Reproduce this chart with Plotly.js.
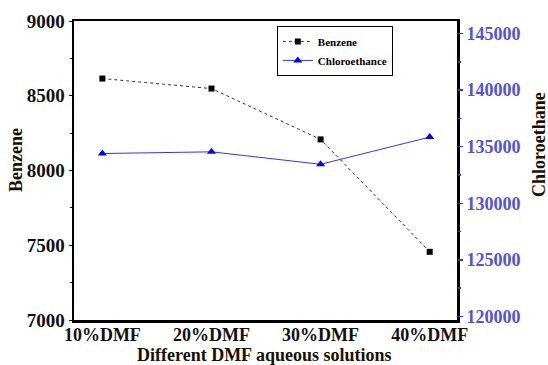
<!DOCTYPE html>
<html><head><meta charset="utf-8">
<script src="https://cdn.plot.ly/plotly-3.0.1.min.js"></script>
<style>html,body{margin:0;padding:0;background:#fff}#chart{width:548px;height:365px}</style>
</head><body><div id="chart"></div>
<script>
const categories = ['10%DMF', '20%DMF', '30%DMF', '40%DMF'];
const categoryIndex = [0, 1, 2, 3];
const benzene = [8615, 8548, 8208, 7456];
const chloroethane = [134400, 134550, 133450, 135850];
const seriesNames = ['Benzene', 'Chloroethance'];
const axisTitles = {x: 'Different DMF aqueous solutions', y: 'Benzene', y2: 'Chloroethane'};

const F = 'Liberation Serif';
const TITLE_COLOR = '#1a1000';
const traces = [
  {x: categoryIndex, y: benzene, name: seriesNames[0], type: 'scatter', mode: 'lines+markers',
   line: {color: '#333', width: 1, dash: '3px,3px'},
   marker: {symbol: 'square', size: 6, color: '#000'}, xaxis: 'x', yaxis: 'y'},
  {x: categoryIndex, y: chloroethane, name: seriesNames[1], type: 'scatter', mode: 'lines+markers',
   line: {color: '#3333ff', width: 1},
   marker: {symbol: 'triangle-up', size: 8, color: '#0000ff'}, xaxis: 'x', yaxis: 'y2'}
];
const layout = {
  width: 548, height: 365,
  margin: {l: 74, r: 91, t: 21, b: 45},
  paper_bgcolor: '#fff', plot_bgcolor: '#fff',
  showlegend: true,
  legend: {x: 0.681, y: 0.9, xanchor: 'center', yanchor: 'middle',
    bgcolor: '#fff', bordercolor: '#000', borderwidth: 1,
    font: {family: F, size: 11, color: '#000', weight: 'bold'},
    itemwidth: 30, tracegroupgap: 0},
  xaxis: {type: 'linear', range: [-0.26, 3.25], tickvals: categoryIndex, ticktext: categories,
    showgrid: false, zeroline: false, showline: true, linewidth: 2.5, linecolor: '#000', mirror: true,
    ticks: '', ticklabelstandoff: -3,
    tickfont: {family: F, size: 18, color: '#111', weight: 'bold'}},
  xaxis2: {type: 'linear', range: [-0.26, 3.25], overlaying: 'x', side: 'top', tickvals: categoryIndex,
    showticklabels: false, showgrid: false, zeroline: false, showline: false,
    ticks: 'inside', ticklen: 4, tickcolor: '#000'},
  xaxis3: {type: 'linear', range: [-0.26, 3.25], overlaying: 'x', side: 'bottom', tickvals: categoryIndex,
    showticklabels: false, showgrid: false, zeroline: false, showline: false,
    ticks: 'outside', ticklen: 3, tickcolor: '#000',
    minor: {tickvals: [0.5, 1.5, 2.5], ticks: 'outside', ticklen: 2, tickcolor: '#000'}},
  yaxis: {range: [7000, 9000], dtick: 500, showgrid: false, zeroline: false,
    showline: true, linewidth: 2.5, linecolor: '#000', mirror: true,
    ticks: 'outside', ticklen: 3, tickcolor: '#000',
    minor: {dtick: 250, ticks: 'outside', ticklen: 2, tickcolor: '#000'},
    tickfont: {family: F, size: 19, color: '#111', weight: 'bold'}},
  yaxis2: {range: [119690, 146110], overlaying: 'y', side: 'right', dtick: 5000,
    tickformat: 'd', exponentformat: 'none',
    showgrid: false, zeroline: false, showline: false,
    ticks: 'outside', ticklen: 5, tickwidth: 1.5, tickcolor: '#3333dd',
    minor: {dtick: 2500, ticks: 'outside', ticklen: 3, tickcolor: '#3333dd'},
    tickfont: {family: F, size: 18, color: '#5252dd', weight: 'bold'}},
  annotations: [
    {text: axisTitles.x, xref: 'paper', yref: 'paper', x: (264 - 74) / 383, y: -(366 - 320) / 299,
     xanchor: 'center', yanchor: 'bottom', showarrow: false, borderpad: 0,
     font: {family: F, size: 18, color: TITLE_COLOR, weight: 'bold'}},
    {text: axisTitles.y, xref: 'paper', yref: 'paper', x: (16 - 74) / 383, y: 1 - (160 - 21) / 299,
     xanchor: 'center', yanchor: 'middle', textangle: -90, showarrow: false,
     font: {family: F, size: 18, color: TITLE_COLOR, weight: 'bold'}},
    {text: axisTitles.y2, xref: 'paper', yref: 'paper', x: (539 - 74) / 383, y: 1 - (145 - 21) / 299,
     xanchor: 'center', yanchor: 'middle', textangle: -90, showarrow: false,
     font: {family: F, size: 18, color: TITLE_COLOR, weight: 'bold'}}
  ]
};
Plotly.newPlot('chart', traces, layout, {displayModeBar: false, staticPlot: true});
</script></body></html>
